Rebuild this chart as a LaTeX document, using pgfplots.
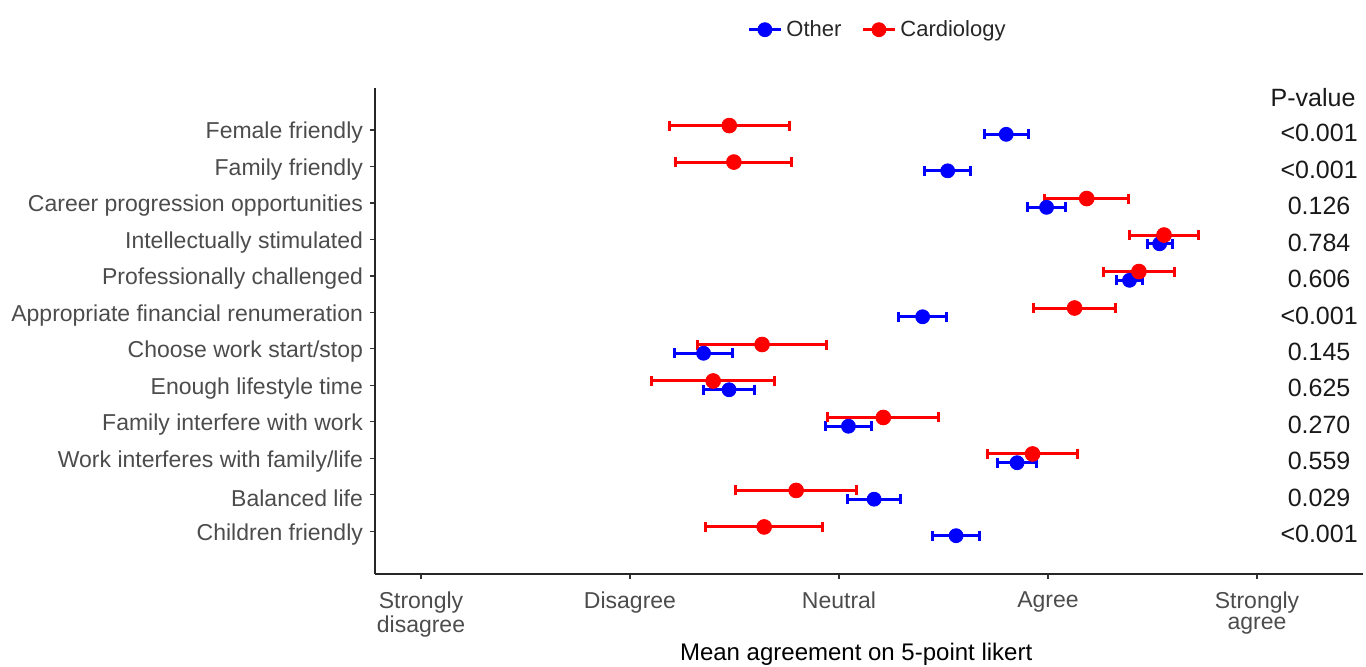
\documentclass[border=0pt]{standalone}
\usepackage{fontspec}
\setmainfont{Liberation Sans}
\usepackage{pgfplots}
\pgfplotsset{compat=1.18}
\usepackage{pgfplotstable}

% row: 12 = Female friendly (top) ... 1 = Children friendly (bottom)
\pgfplotstableread{
y  x     e
12 3.800 0.106
11 3.520 0.110
10 3.993 0.090
9  4.534 0.060
8  4.390 0.060
7  3.400 0.113
6  2.352 0.138
5  2.474 0.120
4  3.045 0.110
3  3.852 0.095
2  3.168 0.126
1  3.560 0.112
}\othertab

\pgfplotstableread{
y  x     e
12 2.475 0.287
11 2.497 0.278
10 4.185 0.200
9  4.555 0.166
8  4.435 0.169
7  4.127 0.196
6  2.632 0.310
5  2.398 0.294
4  3.212 0.266
3  3.926 0.216
2  2.795 0.289
1  2.642 0.280
}\cardtab

\begin{document}
\begin{tikzpicture}
\path[use as bounding box] (0,0) rectangle (683pt,333pt);
\begin{axis}[
  at={(187.5pt,46pt)}, anchor=south west,
  scale only axis, width=494pt, height=243pt,
  xmin=0.78, xmax=5.507, ymin=-0.17, ymax=13.15,
  axis x line=bottom, axis y line=left,
  axis line style={-, line width=0.7pt, black!85},
  xtick={1,2,3,4,5},
  xticklabels={Strongly\\disagree, Disagree, Neutral, Agree, Strongly\\agree},
  xticklabel style={align=center, font=\fontsize{11.5}{10.5}\selectfont, text=black!70, yshift=-3pt},
  ytick={1,...,12},
  yticklabels={Children friendly, Balanced life, Work interferes with family/life, Family interfere with work, Enough lifestyle time, Choose work start/stop, Appropriate financial renumeration, Professionally challenged, Intellectually stimulated, Career progression opportunities, Family friendly, Female friendly},
  yticklabel style={font=\fontsize{11.5}{13}\selectfont, text=black!70, yshift=-1.5pt},
  tick align=outside, major tick length=2.5pt,
  tick style={black!80, line width=0.6pt},
  xlabel={Mean agreement on 5-point likert},
  xlabel style={font=\fontsize{12}{14}\selectfont, at={(axis description cs:0.487,0)}, anchor=center, yshift=-40pt},
  clip=false,
  legend columns=2,
  legend style={at={(0.5096,1.12)}, anchor=center, draw=none, fill=none,
    font=\fontsize{11}{13}\selectfont, text=black!85,
    /tikz/every even column/.append style={column sep=8pt}},
  legend image code/.code={\draw[line width=1.5pt] (0pt,0pt) -- (16pt,0pt); \fill (8pt,0pt) circle (3.5pt);},
]
\addplot[blue, only marks, mark=*, mark size=3.5pt,
  error bars/.cd, x dir=both, x explicit,
  error bar style={line width=1.5pt},
  error mark options={rotate=90, mark size=2.5pt, line width=1.5pt}]
  table[x=x, y expr=\thisrow{y}-0.12, x error=e] {\othertab};
\addlegendentry{Other}
\addplot[red, only marks, mark=*, mark size=3.7pt,
  error bars/.cd, x dir=both, x explicit,
  error bar style={line width=1.5pt},
  error mark options={rotate=90, mark size=2.5pt, line width=1.5pt}]
  table[x=x, y expr=\thisrow{y}+0.12, x error=e] {\cardtab};
\addlegendentry{Cardiology}

\begin{scope}[every node/.style={font=\fontsize{12.5}{14}\selectfont, text=black!90}]
\node at (axis cs:5.268,12.9) {P-value};
\begin{scope}[every node/.append style={yshift=-1.5pt}]
\node at (axis cs:5.297,12) {<0.001};
\node at (axis cs:5.297,11) {<0.001};
\node at (axis cs:5.297,10) {0.126};
\node at (axis cs:5.297,9) {0.784};
\node at (axis cs:5.297,8) {0.606};
\node at (axis cs:5.297,7) {<0.001};
\node at (axis cs:5.297,6) {0.145};
\node at (axis cs:5.297,5) {0.625};
\node at (axis cs:5.297,4) {0.270};
\node at (axis cs:5.297,3) {0.559};
\node at (axis cs:5.297,2) {0.029};
\node at (axis cs:5.297,1) {<0.001};
\end{scope}
\end{scope}
\end{axis}
\end{tikzpicture}
\end{document}
